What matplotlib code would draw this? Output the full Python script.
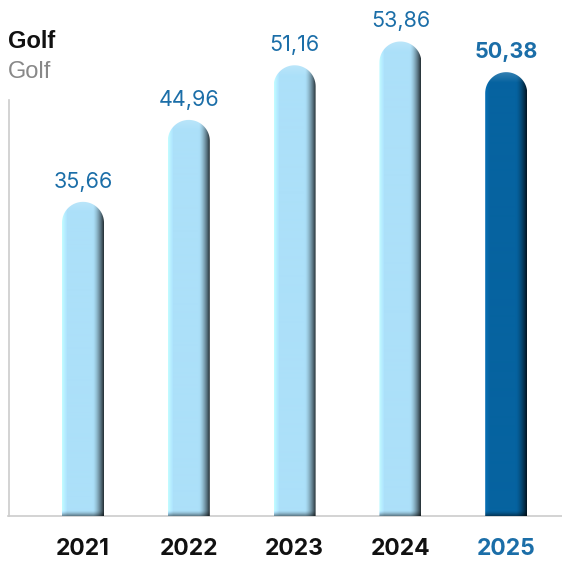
import numpy as np
import matplotlib.pyplot as plt
from matplotlib.path import Path
from matplotlib.patches import PathPatch

years = ["2021", "2022", "2023", "2024", "2025"]
values = [35.66, 44.96, 51.16, 53.86, 50.38]
labels = ["35,66", "44,96", "51,16", "53,86", "50,38"]
title = "Golf"
subtitle = "Golf"

light = np.array([172, 224, 249]) / 255
dark = np.array([6, 99, 160]) / 255
label_blue = "#1b6ea8"

W, H = 562, 565
fig = plt.figure(figsize=(W / 100, H / 100), dpi=100)
left, bottom = 8, 49
ax = fig.add_axes([left / W, bottom / H, (W - left) / W, (H - bottom) / H])

px_per_unit = 8.81
ymax = (H - bottom) / px_per_unit
spacing = 105.8
x0_px = 83 - left
xlim = (-x0_px / spacing, (W - left - x0_px) / spacing)
ax.set_xlim(*xlim)
ax.set_ylim(0, ymax)
ax.axis("off")

bar_w = 42 / spacing
ry = 21 / px_per_unit


def shade(base, rows, cols, bottom_px=7):
    u = np.linspace(0, 1, cols)
    prof = np.ones(cols)
    prof += 0.12 * np.clip(1 - u / 0.12, 0, 1)
    prof *= 1 - 0.75 * np.clip((u - 0.74) / 0.26, 0, 1) ** 1.5
    img = base[None, None, :] * prof[None, :, None] * np.ones((rows, 1, 1))
    # dark band at the foot of the bar
    v = np.arange(rows)
    foot = np.clip(1 - (rows - 1 - v) / bottom_px, 0, 1) ** 1.5
    img *= (1 - 0.65 * foot)[:, None, None]
    # soft highlight along the top of the cap
    top = np.clip(1 - v / 10, 0, 1)
    img = img + (1 - img) * (0.18 * top)[:, None, None]
    return np.clip(img, 0, 1)


for i, (val, lab) in enumerate(zip(values, labels)):
    base = dark if i == len(values) - 1 else light
    xa, xb = i - bar_w / 2, i + bar_w / 2
    t = np.linspace(np.pi, 0, 40)
    cap = np.column_stack([i + bar_w / 2 * np.cos(t), val - ry + ry * np.sin(t)])
    verts = np.vstack([[xa, -0.2], [xa, val - ry], cap, [xb, -0.2], [xa, -0.2]])
    patch = PathPatch(Path(verts, closed=True), facecolor="none", edgecolor="none",
                      transform=ax.transData)
    ax.add_patch(patch)
    rows = int(val * px_per_unit) + 2
    im = ax.imshow(shade(base, rows, 42), extent=(xa, xb, -0.2, val),
                   aspect="auto", interpolation="bilinear", zorder=3)
    im.set_clip_path(patch)
    ax.text(i, val + 20 / px_per_unit, lab, ha="center", va="center",
            fontsize=15.5, color=label_blue, family="Inter",
            fontweight="bold" if i == len(values) - 1 else "normal")
    ax.text(i, -33 / px_per_unit, years[i], ha="center", va="center",
            fontsize=16.5, family="Inter", fontweight="bold",
            color=label_blue if i == len(values) - 1 else "#111111")

# axis lines
ax.plot([xlim[0], xlim[1]], [0, 0], color="#cccccc", lw=1.2, zorder=1,
        clip_on=False)
ax.plot([xlim[0] + 0.005, xlim[0] + 0.005], [0, (516 - 100) / px_per_unit],
        color="#cccccc", lw=1.2, zorder=1, clip_on=False)

fig.text(8 / W, 1 - 41 / H, title, ha="left", va="center", fontsize=17,
         fontweight="bold", family="Liberation Sans", color="#111111")
fig.text(8 / W, 1 - 72 / H, subtitle, ha="left", va="center", fontsize=17,
         family="Liberation Sans", color="#888888")

ax.set_ylim(0, ymax)
ax.set_xlim(*xlim)
fig.savefig("out.png", dpi=100)
